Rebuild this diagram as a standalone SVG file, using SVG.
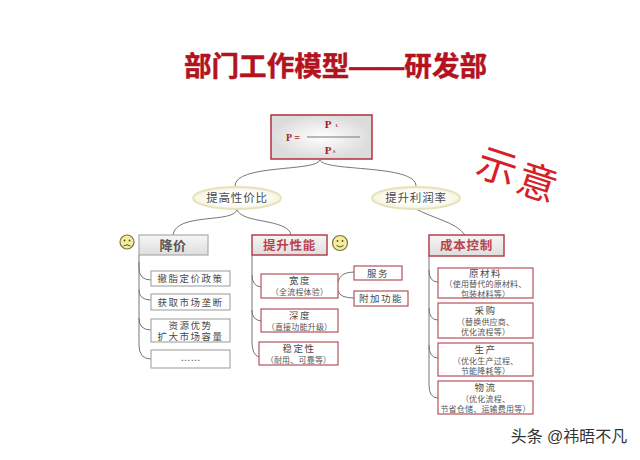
<svg xmlns="http://www.w3.org/2000/svg" width="640" height="460" viewBox="0 0 640 460">
<style>
text{font-family:"Liberation Sans","Noto Sans CJK SC",sans-serif;text-anchor:middle;fill:#4a4a4a}
.c{fill:none;stroke:#777;stroke-width:1}
.g{fill:#fff;stroke:#aaa;stroke-width:1.2}
.r{fill:#fff;stroke:#b5525c;stroke-width:1.2}
.h1{font-size:13px;font-weight:700;fill:#555;letter-spacing:.4px}
.h2{font-size:12.5px;font-weight:700;fill:#b8434e;letter-spacing:.8px}
.m{font-size:9.5px;letter-spacing:1.5px}
.s{font-size:8px;fill:#555;letter-spacing:.2px}
.f{font-family:"Liberation Serif",serif;font-weight:700;fill:#a3222c}
.oval{fill:url(#ov);stroke:#e6e2bd;stroke-width:2}
.o{font-size:11.5px;letter-spacing:.8px}
.face{fill:#f4eda0;stroke:#77733a;stroke-width:1.2}
.fl{fill:none;stroke:#55522a;stroke-width:1}
.st{font-size:40px;fill:#d81e28}
</style>
<defs>
<radialGradient id="ov"><stop offset="0.55" stop-color="#fff"/><stop offset="1" stop-color="#f6f3dc"/></radialGradient>
<radialGradient id="fb"><stop offset="0" stop-color="#fff"/><stop offset="1" stop-color="#dcdcdc"/></radialGradient>
<linearGradient id="hb" x1="0" y1="0" x2="0" y2="1"><stop offset="0" stop-color="#f6f6f6"/><stop offset="1" stop-color="#dedede"/></linearGradient>
</defs>
<rect width="640" height="460" fill="#fff"/>
<text id="title" x="335.500" y="76" textLength="303" lengthAdjust="spacingAndGlyphs" style="font-size:27px;font-weight:700;fill:#b3131d;stroke:#b3131d;stroke-width:.5">部门工作模型——研发部</text>
<g id="connectors">
<path class="c" d="M320 160C316 172 235 164 235 186"/>
<path class="c" d="M320 160C324 172 416 164 416 186"/>
<path class="c" d="M237 209C235 224 176 212 173 235"/>
<path class="c" d="M237 209C240 224 288 218 291 235"/>
<path class="c" d="M416 209C432 218 456 222 465 235"/>
<path class="c" d="M139 255V268Q139 280 151 280M139 262V290Q139 300 151 300M139 290V318Q139 330 151 330M139 318V345Q139 359 151 359"/>
<path class="c" d="M252 255V275Q252 286 261 287M252 275V310Q252 320 261 321M252 310V342Q252 355 259 357"/>
<path class="c" d="M338 282Q340 272 354 272M338 291Q340 298 354 298"/>
<path class="c" d="M429 256V270Q429 282 438 282M429 270V308Q429 320 438 320M429 308V345Q429 358 438 358M429 345V385Q429 398 438 398"/>
</g>
<g id="formula">
<rect x="271" y="115" width="101" height="44" fill="url(#fb)" stroke="#b3303a" stroke-width="1.500"/>
<text class="f" x="293" y="141" style="font-size:10px">P =</text>
<path d="M307 137H360" stroke="#777" stroke-width="1" fill="none"/>
<text class="f" x="328" y="128" style="font-size:11px">P</text>
<text class="f" x="337" y="127" style="font-size:4px">L</text>
<text class="f" x="328" y="154" style="font-size:11px">P</text>
<text class="f" x="334" y="153" style="font-size:4px">S</text>
</g>
<g id="oval-left"><ellipse class="oval" cx="237" cy="198" rx="44" ry="11"/><text class="o" x="237" y="202">提高性价比</text></g>
<g id="oval-right"><ellipse class="oval" cx="416" cy="198" rx="44" ry="11"/><text class="o" x="416" y="202">提升利润率</text></g>
<g id="stamp">
<text class="st" x="497" y="181" transform="rotate(18 497 167)">示</text>
<text class="st" x="537" y="197" transform="rotate(18 537 183)">意</text>
</g>
<g id="sad"><circle class="face" cx="127" cy="242" r="7"/><circle cx="124.500" cy="240.500" r=".9" fill="#55522a"/><circle cx="129.500" cy="240.500" r=".9" fill="#55522a"/><path class="fl" d="M123.500 246Q127 243.500 130.500 246"/></g>
<g id="happy"><circle class="face" cx="340" cy="243" r="7.500"/><circle cx="337.500" cy="241" r=".9" fill="#55522a"/><circle cx="342.500" cy="241" r=".9" fill="#55522a"/><path class="fl" d="M336.500 245.500Q340 248.500 343.500 245.500"/></g>
<g id="n-jiangjia"><rect x="139" y="235" width="69" height="20" fill="url(#hb)" stroke="#aaa" stroke-width="1.200"/><text class="h1" x="173" y="250">降价</text></g>
<g id="n1"><rect class="g" x="151" y="271" width="79" height="15"/><text class="m" x="190.500" y="282">撤脂定价政策</text></g>
<g id="n2"><rect class="g" x="151" y="294" width="79" height="16"/><text class="m" x="190.500" y="306">获取市场垄断</text></g>
<g id="n3"><rect class="g" x="151" y="319" width="79" height="23"/><text class="m" x="190.500" y="329">资源优势</text><text class="m" x="190.500" y="340">扩大市场容量</text></g>
<g id="n4"><rect class="g" x="151" y="350" width="79" height="18"/><text x="190.500" y="361" style="font-size:10px">……</text></g>
<g id="n-xingneng"><rect x="252" y="235" width="75" height="20" fill="url(#hb)" stroke="#b3404a" stroke-width="1.500"/><text class="h2" x="289.500" y="250">提升性能</text></g>
<g id="n5"><rect class="r" x="261" y="274" width="77" height="24"/><text class="m" x="300" y="284">宽度</text><text class="s" x="299.500" y="295">（全流程体验）</text></g>
<g id="n6"><rect class="r" x="261" y="309" width="77" height="23"/><text class="m" x="300" y="319">深度</text><text class="s" x="299.500" y="330">（直接功能升级）</text></g>
<g id="n7"><rect class="r" x="259" y="342" width="79" height="23"/><text class="m" x="299" y="352">稳定性</text><text class="s" x="298.500" y="363">（耐用、可靠等）</text></g>
<g id="n8"><rect class="r" x="354" y="266" width="48" height="14"/><text class="m" x="378" y="277">服务</text></g>
<g id="n9"><rect class="r" x="354" y="291" width="54" height="15"/><text class="m" x="381" y="302">附加功能</text></g>
<g id="n-chengben"><rect x="429" y="235" width="75" height="21" fill="url(#hb)" stroke="#b3404a" stroke-width="1.500"/><text class="h2" x="466.500" y="250">成本控制</text></g>
<g id="n10"><rect class="r" x="438" y="268" width="95" height="30"/><text class="m" x="485.500" y="277">原材料</text><text class="s" x="485.500" y="287">（使用替代的原材料、</text><text class="s" x="485.500" y="296.500">包装材料等）</text></g>
<g id="n11"><rect class="r" x="438" y="303" width="95" height="35"/><text class="m" x="485.500" y="314">采购</text><text class="s" x="485.500" y="325">（替换供应商、</text><text class="s" x="485.500" y="335">优化流程等）</text></g>
<g id="n12"><rect class="r" x="438" y="343" width="95" height="33"/><text class="m" x="485.500" y="353">生产</text><text class="s" x="485.500" y="363.500">（优化生产过程、</text><text class="s" x="485.500" y="373.500">节能降耗等）</text></g>
<g id="n13"><rect class="r" x="438" y="381" width="95" height="33"/><text class="m" x="485.500" y="391">物流</text><text class="s" x="485.500" y="401.500">（优化流程、</text><text class="s" x="485.500" y="411.500">节省仓储、运输费用等）</text></g>
<text id="watermark" x="569" y="442" style="font-size:16px;fill:#333">头条 @祎晤不凡</text>
</svg>
